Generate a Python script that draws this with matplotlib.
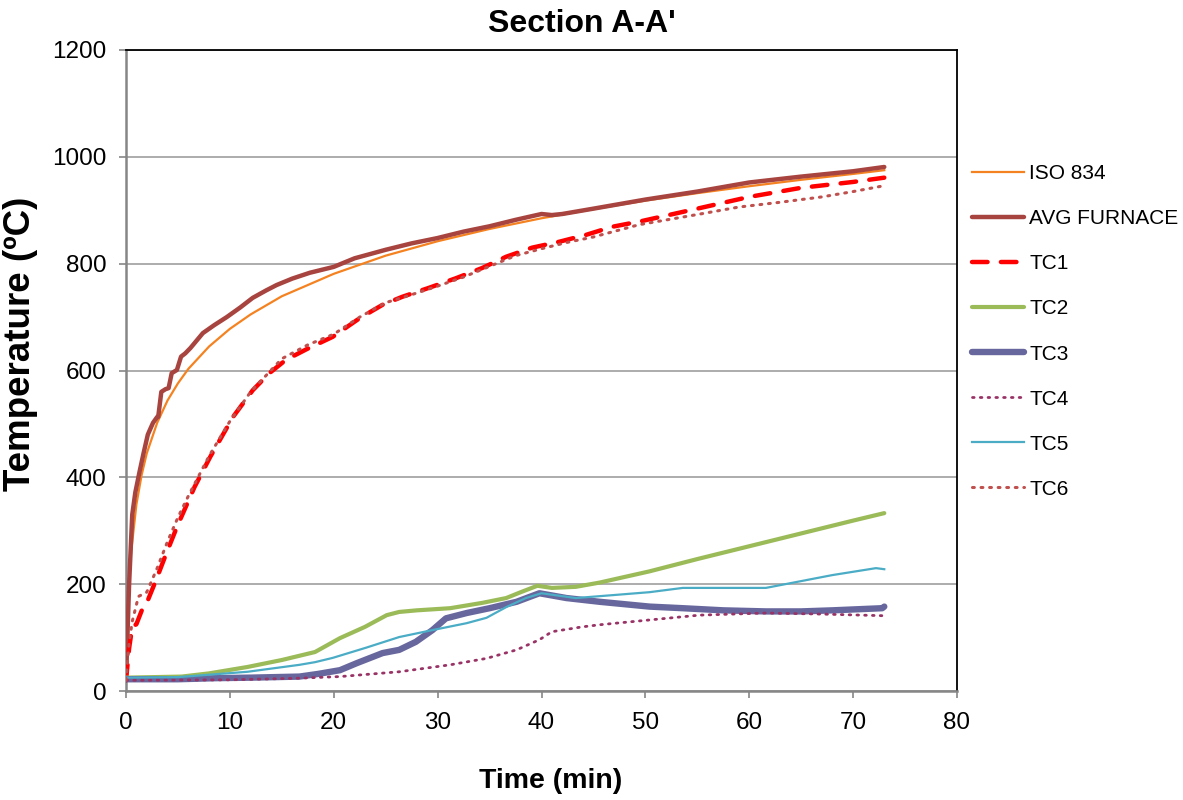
import matplotlib
matplotlib.use("Agg")
import matplotlib.pyplot as plt

plt.rcParams['font.family'] = ['Liberation Sans', 'DejaVu Sans']

# ---------------- data ----------------
t_iso = [0, 0.1, 0.25, 0.5, 1, 1.5, 2, 3, 4, 5, 6, 8, 10, 12, 15, 20, 25, 30,
         35, 40, 45, 50, 55, 60, 65, 70, 73]
T_iso = [20, 108, 185, 261, 349, 404, 445, 502, 544, 576, 603, 645, 678, 705,
         739, 781, 815, 842, 865, 885, 902, 918, 932, 945, 957, 968, 975]

t_furn = [0, 0.3, 0.6, 0.9, 1.3, 1.7, 2.1, 2.6, 3.0, 3.1, 3.4, 3.8, 4.1, 4.4,
          4.9, 5.3, 5.7, 6.2, 7.4, 8.5, 9.7, 11, 12.2, 13.5, 14.5, 16, 17.7,
          20, 22, 25, 27.5, 30, 32.5, 35, 37.5, 40, 41, 42, 45, 50, 55, 60,
          65, 70, 73]
T_furn = [20, 200, 330, 372, 410, 446, 480, 502, 513, 513, 560, 565, 567, 595,
          601, 626, 632, 642, 670, 685, 700, 718, 736, 750, 760, 772, 783,
          794, 810, 826, 838, 848, 860, 870, 882, 893, 891, 893, 903, 920,
          935, 952, 963, 973, 981]

t_tc1 = [0, 0.3, 0.6, 1.0, 1.5, 2.0, 2.9, 3.75, 4.9, 6.6, 8.1, 10.3, 12.2,
         13.8, 15.4, 17.4, 19.9, 22.5, 24.7, 26.6, 29.2, 31.8, 34.3, 36.6,
         39.1, 41.7, 44.3, 46.8, 49.7, 55, 60, 65, 70, 73]
T_tc1 = [20, 80, 120, 125, 150, 165, 208, 251, 307, 382, 438, 513, 563, 595,
         620, 640, 663, 698, 723, 738, 755, 773, 792, 813, 830, 841, 854, 869,
         880, 903, 925, 942, 953, 961]

t_tc2 = [0, 5.35, 8, 11.7, 15, 18.2, 20.6, 23, 25.1, 26.3, 28, 31.2, 34.3,
         36.6, 38, 39.6, 41, 43.3, 45.6, 50.4, 55, 60, 65, 70, 73]
T_tc2 = [25, 27, 33, 45, 58, 73, 99, 120, 142, 148, 151, 155, 165, 174, 185,
         197, 193, 195, 203, 224, 247, 271, 295, 319, 333]

t_tc3 = [0, 5, 8.6, 12, 16.7, 18.5, 20.6, 22.2, 24.7, 26.3, 27.9, 29.5, 30.8,
         32.8, 35, 37.6, 39.8, 42.4, 45.6, 50.4, 53.6, 57.5, 61.6, 65, 68,
         72.8, 73]
T_tc3 = [22, 22, 24, 25, 27, 32, 39, 52, 71, 77, 92, 114, 136, 146, 155, 167,
         183, 174, 167, 158, 155, 151, 149, 149, 151, 155, 158]

t_tc4 = [0, 10, 16.7, 20.6, 26.3, 31.2, 34.7, 37.6, 39.8, 41, 43.9, 45.6,
         50.4, 55.2, 61.6, 67, 72.8]
T_tc4 = [20, 21, 24, 27, 36, 49, 61, 77, 96, 111, 120, 124, 133, 142, 146,
         144, 141]

t_tc5 = [0, 5, 11.7, 16.7, 18.2, 19.9, 23.1, 26.3, 29.5, 32.8, 34.7, 36.6,
         38.5, 40, 43.3, 47.2, 50.4, 53.6, 61.6, 64.8, 68, 72.2, 73]
T_tc5 = [25, 26, 36, 49, 54, 62, 81, 101, 114, 127, 137, 157, 174, 183, 174,
         180, 185, 193, 193, 205, 217, 230, 228]

t_tc6 = [0, 0.3, 0.6, 1.2, 2, 3, 4, 5, 6, 8, 10, 12, 15, 17.5, 20, 22.5, 25,
         27.5, 30, 32.5, 35, 37.5, 40, 42.5, 45, 49.4, 55, 59, 63, 67, 70, 73]
T_tc6 = [20, 90, 130, 177, 185, 230, 280, 325, 365, 440, 505, 560, 622, 648,
         668, 700, 727, 742, 758, 775, 795, 815, 828, 840, 850, 873, 892, 906,
         915, 925, 935, 946]

x_ticks = [0, 10, 20, 30, 40, 50, 60, 70, 80]
y_ticks = [0, 200, 400, 600, 800, 1000, 1200]

# ---------------- figure ----------------
fig = plt.figure(figsize=(11.83, 8.0), dpi=100)
ax = fig.add_axes([126 / 1183, 1 - 691 / 800, (957 - 126) / 1183, (691 - 50) / 800])

ax.plot(t_iso, T_iso, color='#F58220', lw=1.6, label='ISO 834', zorder=3)
ax.plot(t_furn, T_furn, color='#A8443F', lw=3.2, label='AVG FURNACE',
        solid_capstyle='round', solid_joinstyle='round', zorder=3)
ax.plot(t_tc1, T_tc1, color='#FF0000', lw=3.2, ls=(0, (3.5, 3.0)), label='TC1',
        dash_capstyle='round', zorder=3)
ax.plot(t_tc2, T_tc2, color='#9BBB59', lw=3.0, label='TC2',
        solid_capstyle='round', zorder=3)
ax.plot(t_tc3, T_tc3, color='#67679E', lw=4.6, label='TC3',
        solid_capstyle='round', solid_joinstyle='round', zorder=3)
ax.plot(t_tc4, T_tc4, color='#993366', lw=2.0, ls=(0, (0.6, 2.2)), label='TC4',
        dash_capstyle='round', zorder=3)
ax.plot(t_tc5, T_tc5, color='#4BACC6', lw=1.6, label='TC5', zorder=3)
ax.plot(t_tc6, T_tc6, color='#C0504D', lw=2.2, ls=(0, (0.6, 2.2)), label='TC6',
        dash_capstyle='round', zorder=3)

ax.set_xlim(0, 80)
ax.set_ylim(0, 1200)
ax.set_xticks(x_ticks)
ax.set_yticks(y_ticks)
ax.grid(axis='y', color='#A6A6A6', lw=1.3, zorder=1)
ax.set_axisbelow(True)

for side in ['left', 'bottom']:
    ax.spines[side].set_color('#868686')
    ax.spines[side].set_linewidth(1.8)
for side in ['top', 'right']:
    ax.spines[side].set_color('#000000')
    ax.spines[side].set_linewidth(1.3)

ax.tick_params(axis='both', direction='out', length=5, width=1.2,
               color='#868686', labelsize=17.5, labelcolor='black')
ax.tick_params(axis='y', pad=9)
ax.tick_params(axis='x', pad=10)

ax.set_title("Section A-A'", fontsize=23, fontweight='bold', pad=13,
             x=(582 - 126) / (957 - 126))
fig.text(551 / 1183, 1 - 781 / 800, 'Time (min)', fontsize=20.5,
         fontweight='bold', ha='center', va='center')
fig.text(21 / 1183, 1 - 344 / 800, 'Temperature (ºC)', fontsize=26.5,
         fontweight='bold', ha='center', va='center', rotation=90)

leg = fig.legend(loc='center left', bbox_to_anchor=(972 / 1183, 1 - 331.5 / 800),
                 frameon=False, fontsize=15, handlelength=2.5,
                 handletextpad=0.25, labelspacing=1.25, borderpad=0,
                 borderaxespad=0)

fig.savefig('out.png', dpi=100)
